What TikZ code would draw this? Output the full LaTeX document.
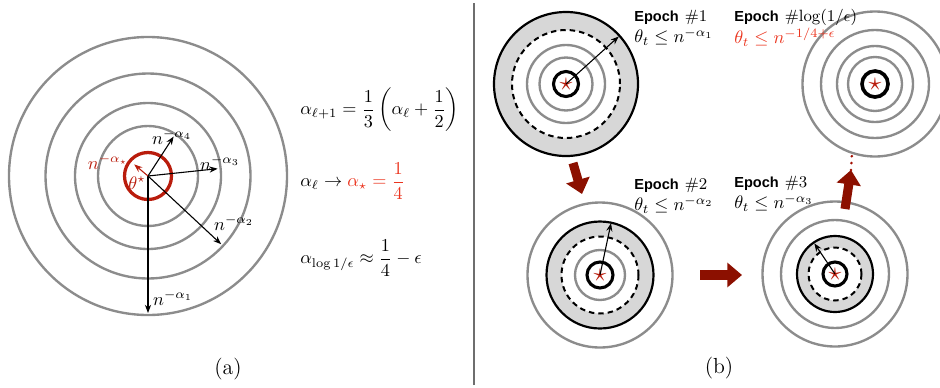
\documentclass[tikz,border=0pt]{standalone}
\usepackage{amsmath,amssymb}
\usepackage{fontspec}
\newfontfamily\helv{Liberation Sans}
\usepackage{tikz}
\usetikzlibrary{arrows.meta}
\definecolor{ringgray}{RGB}{140,140,140}
\definecolor{bandgray}{RGB}{215,215,215}
\definecolor{ringred}{RGB}{185,28,12}
\definecolor{eqred}{RGB}{235,52,30}
\definecolor{arrowred}{RGB}{140,16,0}
\definecolor{seprule}{RGB}{110,110,110}
\newcommand{\ep}[1]{{\helv\bfseries\footnotesize Epoch} {\small\##1}}

\begin{document}
\begin{tikzpicture}[x=0.55pt, y=0.55pt,
  >={Stealth[length=4.5pt,width=3.4pt]},
  ring/.style={draw=ringgray, line width=1.3pt},
  bring/.style={draw=black, line width=1.2pt},
  cring/.style={draw=black, line width=1.7pt},
  dring/.style={draw=black, line width=1.1pt, dash pattern=on 3pt off 2.2pt},
  rad/.style={->, line width=0.6pt},
  lbl/.style={inner sep=0pt},
  eq/.style={anchor=west, inner sep=0pt},
  eptext/.style={anchor=west, inner sep=0pt},
  ctr/.style={text=ringred, inner sep=0pt, font=\Large},
  bigarrow/.style={line width=5pt, draw=arrowred, -{Triangle[length=8pt,width=13pt]}}]
\useasboundingbox (0,0) rectangle (940,387);
% (a) the shrinking radii around theta*
\coordinate (oa) at (148,211);
\foreach \r in {139,102.5,73,50}
  \draw[ring] (oa) circle[radius=\r];
\draw[draw=ringred, line width=1.8pt] (oa) circle[radius=23.5];
\draw[rad] (oa) -- ++(270:137) coordinate (ta1);
\draw[rad] (oa) -- ++(-43:100) coordinate (ta2);
\draw[rad] (oa) -- ++(6:70) coordinate (ta3);
\draw[rad] (oa) -- ++(57:47) coordinate (ta4);
\draw[rad, ringred] (oa) -- ++(140:18) coordinate (tas);
\node[lbl] (la1) at (173,89) {$n^{-\alpha_1}$};
\node[lbl] (la2) at (234,164) {$n^{-\alpha_2}$};
\node[lbl] (la3) at (220,224) {$n^{-\alpha_3}$};
\node[lbl] (la4) at (172,250) {$n^{-\alpha_4}$};
\node[lbl, text=ringred] (las) at (108,225) {$n^{-\alpha_\star}$};
\node[lbl, text=ringred] (lth) at (137,204) {$\theta^\star$};
\node[eq] (eqa) at (300,277) {$\alpha_{\ell+1}=\dfrac{1}{3}\left(\alpha_\ell+\dfrac{1}{2}\right)$};
\node[eq] (eqb) at (300,206) {$\alpha_\ell\to{\color{eqred}\alpha_\star=\dfrac{1}{4}}$};
\node[eq] (eqc) at (300,129) {$\alpha_{\log 1/\epsilon}\approx\dfrac{1}{4}-\epsilon$};
\node[font=\large] (pa) at (228,18) {(a)};
% separator
\draw[seprule, line width=1.1pt] (474,2) -- (474,384);
% (b) epoch 1
\coordinate (c1) at (566,303);
\fill[bandgray, even odd rule] (c1) circle[radius=72] (c1) circle[radius=54];
\draw[bring] (c1) circle[radius=72];
\draw[dring] (c1) circle[radius=54];
\foreach \r in {39,26.5}
  \draw[ring] (c1) circle[radius=\r];
\draw[cring] (c1) circle[radius=12.5];
\node[ctr] (s1) at (c1) {$\star$};
\draw[rad] (c1) -- ++(42:71) coordinate (t1);
\node[eptext] (ep1) at (634,370) {\ep{1}};
\node[eptext] (th1) at (634,350) {$\theta_t\leq n^{-\alpha_1}$};
% epoch 2
\coordinate (c2) at (600,112);
\draw[ring] (c2) circle[radius=72.5];
\fill[bandgray, even odd rule] (c2) circle[radius=53.5] (c2) circle[radius=38.5];
\draw[bring] (c2) circle[radius=53.5];
\draw[dring] (c2) circle[radius=38.5];
\draw[ring] (c2) circle[radius=25];
\draw[cring] (c2) circle[radius=13];
\node[ctr] (s2) at (c2) {$\star$};
\draw[rad] (c2) -- ++(78:53) coordinate (t2);
\node[eptext] (ep2) at (634,202) {\ep{2}};
\node[eptext] (th2) at (634,182) {$\theta_t\leq n^{-\alpha_2}$};
% epoch 3
\coordinate (c3) at (835,113);
\foreach \r in {72.5,54}
  \draw[ring] (c3) circle[radius=\r];
\fill[bandgray, even odd rule] (c3) circle[radius=38] (c3) circle[radius=26.5];
\draw[bring] (c3) circle[radius=38];
\draw[dring] (c3) circle[radius=26.5];
\draw[cring] (c3) circle[radius=12];
\node[ctr] (s3) at (c3) {$\star$};
\draw[rad] (c3) -- ++(124:37) coordinate (t3);
\node[eptext] (ep3) at (734,204) {\ep{3}};
\node[eptext] (th3) at (734,184) {$\theta_t\leq n^{-\alpha_3}$};
% last epoch
\coordinate (c4) at (875,303);
\foreach \r in {72.5,54,38,27}
  \draw[ring] (c4) circle[radius=\r];
\draw[draw=black, line width=2pt] (c4) circle[radius=13];
\node[ctr] (s4) at (c4) {$\star$};
\node[eptext] (ep4) at (734,370) {\ep{$\log(1/\epsilon)$}};
\node[eptext, text=eqred] (th4) at (734,350) {$\theta_t\leq n^{-1/4+\epsilon}$};
% moves between epochs
\coordinate (d0) at (573,224);
\coordinate (d1) at (582,193);
\draw[bigarrow] (d0) -- (d1);
\coordinate (r0) at (700,112);
\coordinate (r1) at (742,112);
\draw[bigarrow] (r0) -- (r1);
\coordinate (u0) at (845,178);
\coordinate (u1) at (851,217);
\draw[bigarrow] (u0) -- (u1);
\coordinate (u2) at (852,234);
\draw[arrowred!80!red, line width=1.6pt, line cap=round, dash pattern=on 0pt off 3.8pt] (u1) -- (u2);
\node[font=\large] (pb) at (719,19) {(b)};
\end{tikzpicture}
\end{document}
